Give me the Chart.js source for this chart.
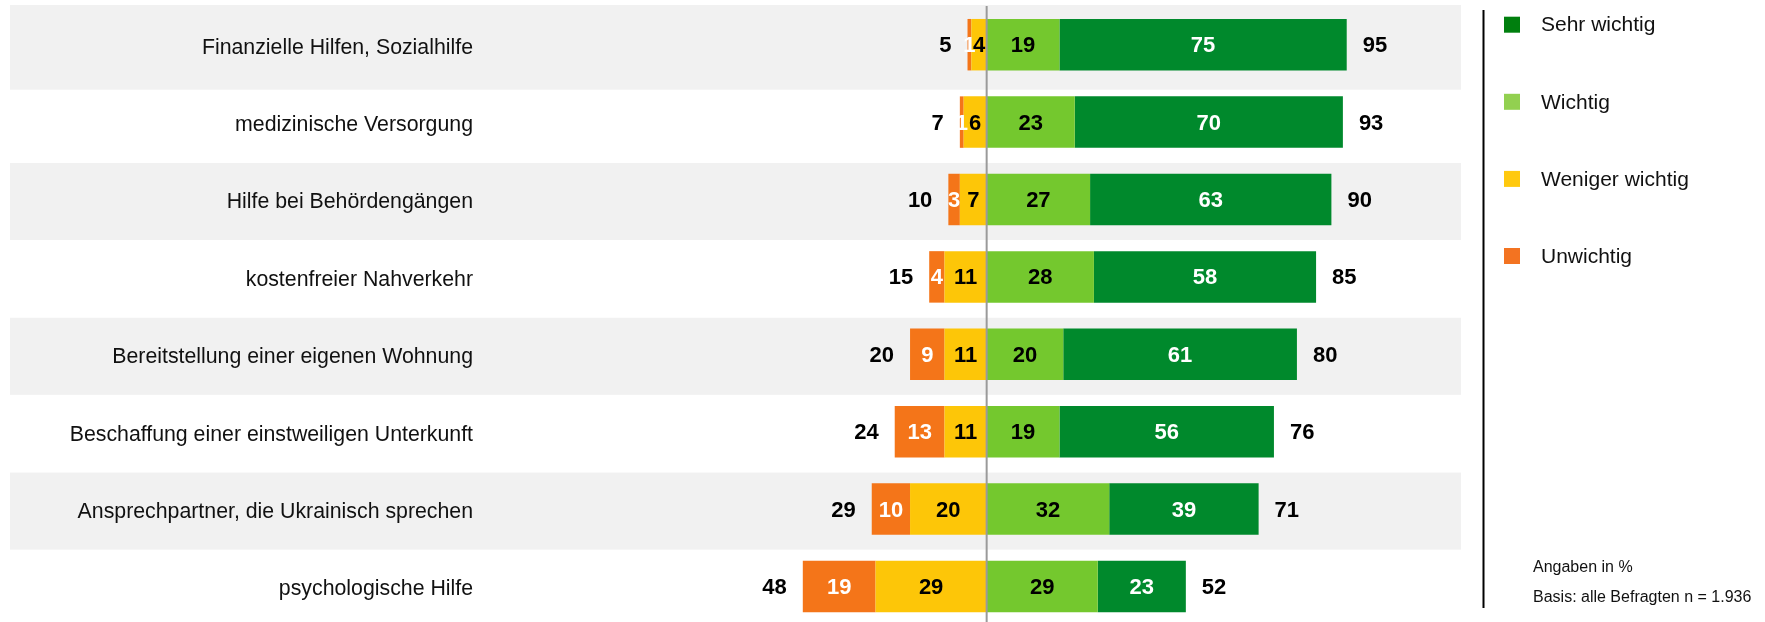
<!DOCTYPE html>
<html lang="de">
<head>
<meta charset="utf-8">
<title>Wichtigkeit der Hilfen</title>
<script src="https://cdn.jsdelivr.net/npm/chart.js@4.4.1/dist/chart.umd.min.js"></script>
<style>
  html, body { margin: 0; padding: 0; background: #ffffff; }
  #wrap { width: 1765px; height: 622px; position: relative; }
</style>
</head>
<body>
<div id="wrap"><canvas id="supportChart" width="1765" height="622"></canvas></div>
<script>
// Kategorien
const categories = [
    'Finanzielle Hilfen, Sozialhilfe',
    'medizinische Versorgung',
    'Hilfe bei Behördengängen',
    'kostenfreier Nahverkehr',
    'Bereitstellung einer eigenen Wohnung',
    'Beschaffung einer einstweiligen Unterkunft',
    'Ansprechpartner, die Ukrainisch sprechen',
    'psychologische Hilfe'
];

// Werte in %
const unwichtig = [1, 1, 3, 4, 9, 13, 10, 19];
const wenigerWichtig = [4, 6, 7, 11, 11, 11, 20, 29];
const wichtig = [19, 23, 27, 28, 20, 19, 32, 29];
const sehrWichtig = [75, 70, 63, 58, 61, 56, 39, 23];

// Summen (wie ausgewiesen, gerundet)
const summeNegativ = [5, 7, 10, 15, 20, 24, 29, 48];
const summePositiv = [95, 93, 90, 85, 80, 76, 71, 52];

const FONT = "'Liberation Sans', Arial, Helvetica, sans-serif";

// Farben
const colors = {
    sehr: '#00892c',
    wichtig: '#74c82e',
    weniger: '#fdc608',
    unwichtig: '#f47519'
};
const legendColors = ['#007f0e', '#92d050', '#ffc90e', '#f37321'];
const legendLabels = ['Sehr wichtig', 'Wichtig', 'Weniger wichtig', 'Unwichtig'];

// Hintergrundstreifen, Mittellinie, Beschriftungen
const decorPlugin = {
    id: 'decor',
    beforeDraw(chart) {
        const ctx = chart.ctx;
        const y = chart.scales.y;
        ctx.save();
        ctx.fillStyle = '#f1f1f1';
        categories.forEach((c, i) => {
            if (i % 2 !== 0) return;
            const cy = y.getPixelForValue(i);
            const top = i === 0 ? 5 : cy - 36.5;
            const bottom = i === 0 ? cy + 45 : cy + 40.5;
            ctx.fillRect(10, top, 1451, bottom - top);
        });
        ctx.restore();
    },
    afterDatasetsDraw(chart) {
        const ctx = chart.ctx;
        const x = chart.scales.x;
        const y = chart.scales.y;
        ctx.save();

        // Mittellinie
        const x0 = x.getPixelForValue(0);
        ctx.strokeStyle = '#9a9a9a';
        ctx.lineWidth = 2;
        ctx.beginPath();
        ctx.moveTo(x0, 6);
        ctx.lineTo(x0, 622);
        ctx.stroke();

        // Werte in den Balken
        ctx.font = 'bold 22px ' + FONT;
        ctx.textAlign = 'center';
        ctx.textBaseline = 'middle';
        chart.data.datasets.forEach((ds, di) => {
            const meta = chart.getDatasetMeta(di);
            meta.data.forEach((bar, i) => {
                const cx = (bar.x + bar.base) / 2;
                ctx.fillStyle = ds.labelColor;
                ctx.fillText(String(Math.abs(ds.data[i])), cx, bar.y + 1.5);
            });
        });

        // Summen links und rechts
        ctx.fillStyle = '#000000';
        categories.forEach((c, i) => {
            const cy = y.getPixelForValue(i) + 1.5;
            const left = x.getPixelForValue(-(unwichtig[i] + wenigerWichtig[i]));
            const right = x.getPixelForValue(wichtig[i] + sehrWichtig[i]);
            ctx.textAlign = 'right';
            ctx.fillText(String(summeNegativ[i]), left - 16, cy);
            ctx.textAlign = 'left';
            ctx.fillText(String(summePositiv[i]), right + 16, cy);
        });

        // Trennlinie
        ctx.strokeStyle = '#000000';
        ctx.lineWidth = 2;
        ctx.beginPath();
        ctx.moveTo(1483.5, 10);
        ctx.lineTo(1483.5, 608);
        ctx.stroke();

        // Legende
        ctx.font = '21px ' + FONT;
        ctx.textAlign = 'left';
        legendLabels.forEach((l, i) => {
            const ly = 24.7 + i * 77.1;
            ctx.fillStyle = legendColors[i];
            ctx.fillRect(1504, ly - 8, 16, 16);
            ctx.fillStyle = '#111111';
            ctx.fillText(l, 1541, ly + 1);
        });

        // Hinweise
        ctx.font = '16px ' + FONT;
        ctx.fillStyle = '#111111';
        ctx.fillText('Angaben in %', 1533, 568);
        ctx.fillText('Basis: alle Befragten n = 1.936', 1533, 598);

        ctx.restore();
    }
};

function initChart() {
    const ctx = document.getElementById('supportChart');
    const common = { categoryPercentage: 1, barPercentage: 0.665, borderWidth: 0, clip: false };

    new Chart(ctx, {
        type: 'bar',
        data: {
            labels: categories,
            datasets: [
                Object.assign({ label: 'Weniger wichtig', data: wenigerWichtig.map(v => -v), backgroundColor: colors.weniger, labelColor: '#000000' }, common),
                Object.assign({ label: 'Unwichtig', data: unwichtig.map(v => -v), backgroundColor: colors.unwichtig, labelColor: '#ffffff' }, common),
                Object.assign({ label: 'Wichtig', data: wichtig, backgroundColor: colors.wichtig, labelColor: '#000000' }, common),
                Object.assign({ label: 'Sehr wichtig', data: sehrWichtig, backgroundColor: colors.sehr, labelColor: '#ffffff' }, common)
            ]
        },
        options: {
            indexAxis: 'y',
            responsive: false,
            devicePixelRatio: 1,
            animation: false,
            layout: {
                padding: { left: 0, right: 395.3, top: 44.7, bottom: 35.5 }
            },
            plugins: {
                legend: { display: false },
                tooltip: { enabled: false }
            },
            scales: {
                x: {
                    display: false,
                    stacked: true,
                    min: -134.1,
                    max: 100
                },
                y: {
                    stacked: true,
                    offset: false,
                    grid: { display: false, drawTicks: false },
                    border: { display: false },
                    ticks: {
                        padding: 0,
                        labelOffset: 3,
                        color: '#111111',
                        font: { family: FONT, size: 21.3 }
                    },
                    afterFit(scale) {
                        scale.width = 473;
                    }
                }
            }
        },
        plugins: [decorPlugin]
    });
}

document.addEventListener('DOMContentLoaded', initChart);
</script>
</body>
</html>
